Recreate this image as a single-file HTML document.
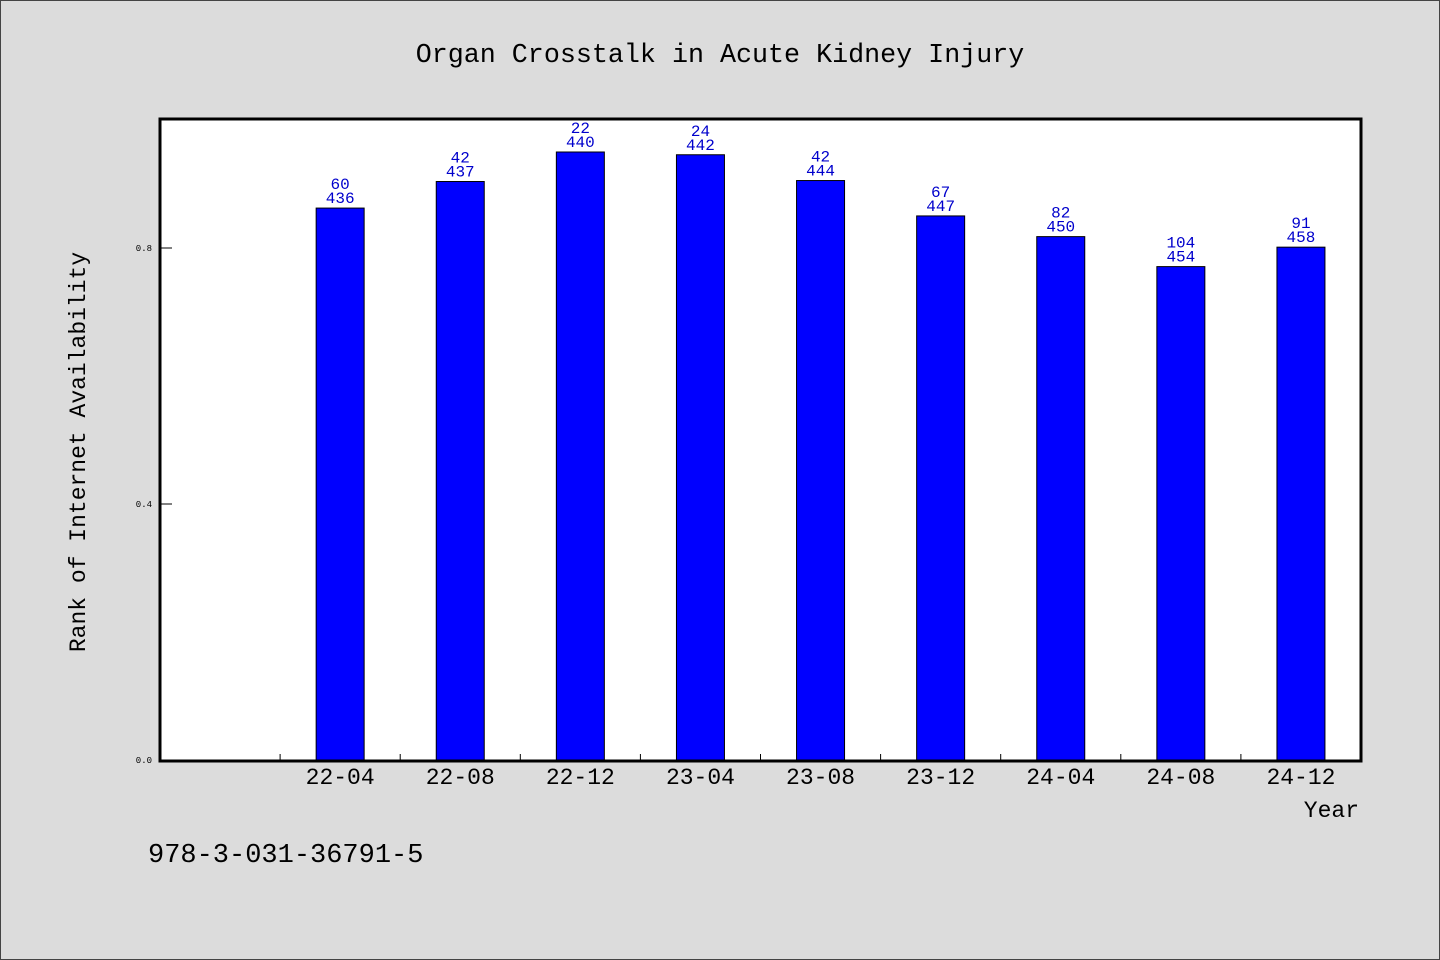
<!DOCTYPE html>
<html><head><meta charset="utf-8"><style>
html,body{margin:0;padding:0;background:#dcdcdc;}
svg{display:block;font-family:"Liberation Mono",monospace;}
</style></head><body>
<svg id="chart" width="1440" height="960" viewBox="0 0 1440 960">
<rect x="0.5" y="0.5" width="1439" height="959" fill="#dcdcdc" stroke="#444"/>
<text x="720" y="62" text-anchor="middle" font-size="26.7" fill="#000">Organ Crosstalk in Acute Kidney Injury</text>
<rect x="160" y="119" width="1201" height="642" fill="#fff"/>
<g id="ticks"></g>
<g id="bars"></g>
<rect x="160" y="119" width="1201" height="642" fill="none" stroke="#000" stroke-width="3"/>
<text transform="translate(85,452) rotate(-90)" text-anchor="middle" font-size="23" fill="#000">Rank of Internet Availability</text>
<text x="1359" y="817" text-anchor="end" font-size="23" fill="#000">Year</text>
<text x="148" y="862" font-size="27" fill="#000">978-3-031-36791-5</text>
</svg>
<script>
const categories = ["22-04","22-08","22-12","23-04","23-08","23-12","24-04","24-08","24-12"];
const ranks = [60,42,22,24,42,67,82,104,91];
const totals = [436,437,440,442,444,447,450,454,458];
const yTicks = [0.0,0.4,0.8];
const yTickLabels = ["0.0","0.4","0.8"];

const NS = "http://www.w3.org/2000/svg";
const plotLeft = 160, plotRight = 1361, plotBottom = 760, plotTop = 120;
const yMax = 1.0;
const yScale = v => plotBottom - v / yMax * (plotBottom - plotTop);
const slot = (plotRight - plotLeft) / (categories.length + 1);
const xScale = i => plotLeft + slot * (i + 1.5);
const barW = 48;

function mk(tag, attrs) {
  const el = document.createElementNS(NS, tag);
  for (const k in attrs) el.setAttribute(k, attrs[k]);
  return el;
}
const tg = document.getElementById("ticks");
yTicks.forEach((t, i) => {
  const ln = mk("line", {x1: plotLeft, x2: plotLeft + 12, y1: yScale(t), y2: yScale(t), stroke: "#000", "stroke-width": 1});
  
  
  tg.appendChild(ln);
  const tx = mk("text", {x: plotLeft - 8, y: yScale(t) + 3, "text-anchor": "end", "font-size": 9, fill: "#000"});
  tx.textContent = yTickLabels[i];
  
  
  tg.appendChild(tx);
});
for (let i = 1; i <= categories.length; i++) {
  const xx = plotLeft + slot * i;
  const ln = mk("line", {x1: xx, x2: xx, y1: plotBottom, y2: plotBottom - 6, stroke: "#000", "stroke-width": 1});
  
  
  tg.appendChild(ln);
}
const bg = document.getElementById("bars");
categories.forEach((c, i) => {
  const v = 1 - ranks[i] / totals[i];
  const yt = yScale(v);
  const r = mk("rect", {x: xScale(i) - barW / 2, y: yt, width: barW, height: plotBottom - yt, fill: "#0000ff", stroke: "#000", "stroke-width": 1});
  
  
  bg.appendChild(r);
  const t1 = mk("text", {x: xScale(i), y: yt - 19, "text-anchor": "middle", "font-size": 16, fill: "#0000cc"});
  t1.textContent = ranks[i];
  
  
  bg.appendChild(t1);
  const t2 = mk("text", {x: xScale(i), y: yt - 5, "text-anchor": "middle", "font-size": 16, fill: "#0000cc"});
  t2.textContent = totals[i];
  
  
  bg.appendChild(t2);
  const xl = mk("text", {x: xScale(i), y: plotBottom + 24, "text-anchor": "middle", "font-size": 23, fill: "#000"});
  xl.textContent = c;
  
  
  bg.appendChild(xl);
});
</script>
</body></html>
